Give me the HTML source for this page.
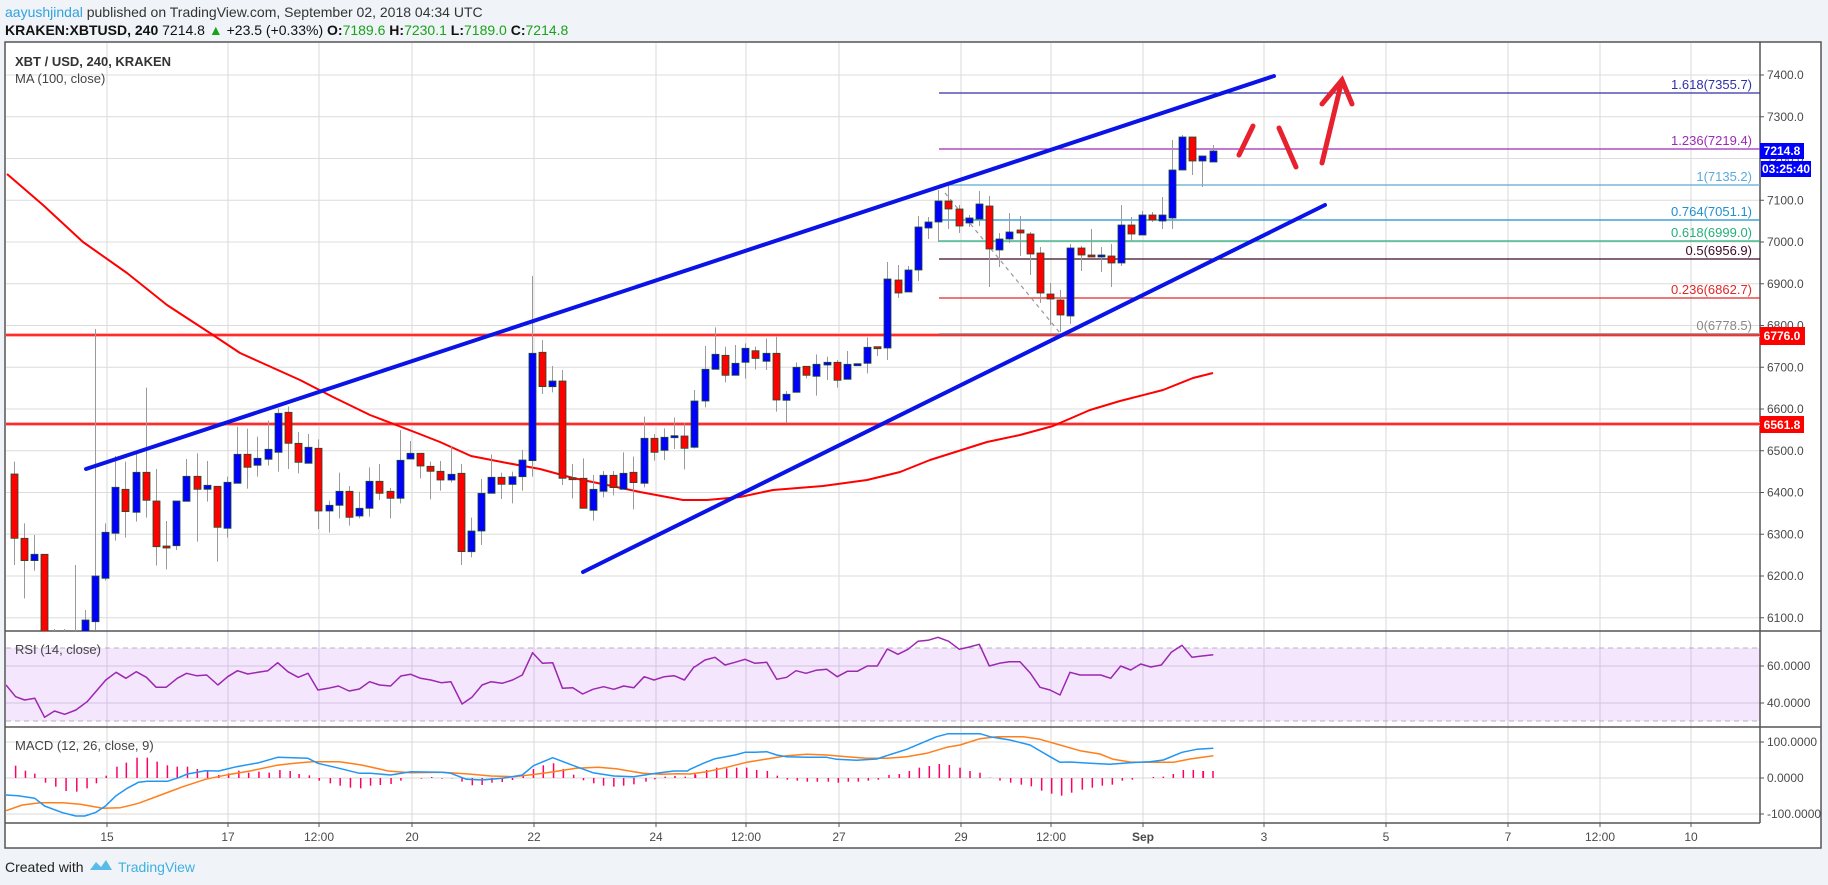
<!DOCTYPE html>
<html><head><meta charset="utf-8"><style>
html,body{margin:0;padding:0;width:1828px;height:885px;overflow:hidden;background:#f0f3f7;font-family:"Liberation Sans",sans-serif}
svg{position:absolute;left:0;top:0}
</style></head><body>
<svg id="s" width="1828" height="885" xmlns="http://www.w3.org/2000/svg" font-family="Liberation Sans, sans-serif">
<defs><clipPath id="mp"><rect x="6" y="43" width="1754" height="588"/></clipPath>
<clipPath id="rp"><rect x="6" y="632" width="1754" height="95"/></clipPath>
<clipPath id="mc"><rect x="6" y="728" width="1754" height="95"/></clipPath></defs>
<text x="5" y="17" font-size="14" fill="#2fa3dc">aayushjindal<tspan fill="#333"> published on TradingView.com, September 02, 2018 04:34 UTC</tspan></text>
<text x="5" y="35" font-size="14" fill="#111"><tspan font-weight="bold">KRAKEN:XBTUSD, 240</tspan> 7214.8 <tspan fill="#1aa31a">▲</tspan> +23.5 (+0.33%) <tspan font-weight="bold">O:</tspan><tspan fill="#1aa31a">7189.6</tspan> <tspan font-weight="bold">H:</tspan><tspan fill="#1aa31a">7230.1</tspan> <tspan font-weight="bold">L:</tspan><tspan fill="#1aa31a">7189.0</tspan> <tspan font-weight="bold">C:</tspan><tspan fill="#1aa31a">7214.8</tspan></text>
<rect x="5" y="42" width="1816" height="806" fill="#fff" stroke="#555" stroke-width="1.5"/>
<g id="g"></g>
<text x="5" y="872" font-size="14" fill="#222">Created with</text>
<path d="M90 870 l6 -8 l5 5 l5 -7 l6 10 z" fill="#5bbbe8"/>
<text x="118" y="872" font-size="14" fill="#3fb0e0">TradingView</text>
</svg>
<script>
var g=document.getElementById('g'),h='';
function Y(p){return 75+(7400-p)*0.4175;}
function L(x1,y1,x2,y2,c,w,extra){h+='<line x1="'+x1+'" y1="'+y1+'" x2="'+x2+'" y2="'+y2+'" stroke="'+c+'" stroke-width="'+w+'" '+(extra||'')+'/>';}
function T(x,y,t,s,c,a,extra){h+='<text x="'+x+'" y="'+y+'" font-size="'+s+'" fill="'+c+'" text-anchor="'+(a||'start')+'" '+(extra||'')+'>'+t+'</text>';}
function P(pts,c,w,clip){h+='<polyline points="'+pts.map(function(p){return p[0].toFixed(1)+','+p[1].toFixed(1)}).join(' ')+'" fill="none" stroke="'+c+'" stroke-width="'+w+'" stroke-linejoin="round" '+(clip?'clip-path="url(#'+clip+')"':'')+'/>';}
// grids
var vx=[107,228,319,412,534,656,746,839,961,1051,1143,1264,1386,1508,1600,1691];
vx.forEach(function(x){L(x,43,x,823,'#d8d8d8',1);});
for(var p=7400;p>=6100;p-=100){var y=Y(p);L(6,y,1760,y,'#dcdcdc',1);T(1767,y+4,p.toFixed(1),12,'#4a4a4a');L(1760,y,1764,y,'#555',1);}
// RSI pane
h+='<rect x="6" y="648" width="1754" height="73" fill="#f3e6fd"/>';
vx.forEach(function(x){L(x,631,x,727,'#d4c6e0',1);});
L(6,666,1760,666,'#d3c3e3',1);L(6,703,1760,703,'#d3c3e3',1);
L(6,648,1760,648,'#b8b0c0',1,'stroke-dasharray="5,4"');L(6,721,1760,721,'#b8b0c0',1,'stroke-dasharray="5,4"');
T(1767,670,'60.0000',12,'#4a4a4a');T(1767,707,'40.0000',12,'#4a4a4a');
L(1760,666,1764,666,'#555',1);L(1760,703,1764,703,'#555',1);
// MACD grids
[742,778,814].forEach(function(y){L(6,y,1760,y,'#d8d8d8',1);L(1760,y,1764,y,'#555',1);});
T(1767,746,'100.0000',12,'#4a4a4a');T(1767,782,'0.0000',12,'#4a4a4a');T(1767,818,'-100.0000',12,'#4a4a4a');
// pane borders
L(5,631,1821,631,'#555',1.5);L(5,727,1821,727,'#555',1.5);L(5,823,1760,823,'#555',1.5);L(1760,42,1760,823,'#555',1.5);
var tl=['15','17','12:00','20','22','24','12:00','27','29','12:00','Sep','3','5','7','12:00','10'];
vx.forEach(function(x,i){L(x,823,x,827,'#555',1);T(x,841,tl[i],12,'#4a4a4a','middle',i==10?'font-weight="bold"':'');});
// labels
T(15,66,'XBT / USD, 240, KRAKEN',13,'#333','start','font-weight="bold"');
T(15,83,'MA (100, close)',13,'#444');
T(15,654,'RSI (14, close)',13,'#444');
T(15,750,'MACD (12, 26, close, 9)',13,'#444');
// red horizontal
[335,424].forEach(function(y){L(6,y,1760,y,'#ffb0b0',4);L(6,y,1760,y,'#ff0000',1.6);});
// fib
var fib=[[93,'#3030a8','1.618(7355.7)'],[149,'#9c2ab8','1.236(7219.4)'],[185,'#5aaad8','1(7135.2)'],[220,'#1f8fcf','0.764(7051.1)'],[241,'#22b07a','0.618(6999.0)'],[259,'#3a0a24','0.5(6956.9)'],[298,'#e02828','0.236(6862.7)'],[334,'#8a8a8a','0(6778.5)']];
fib.forEach(function(f){L(939,f[0],1760,f[0],f[1],1.3);T(1752,f[0]-4,f[2],13,f[1],'end');});
L(945,193,1060,333,'#999',1.2,'stroke-dasharray="4,4"');
// MA
var ma=[[7,174],[43,205],[83,242],[127,273],[167,305],[213,335],[240,353],[300,380],[333,397],[370,415],[417,433],[440,442],[471,456],[507,463],[540,469],[573,478],[607,485],[640,492],[683,500],[707,500],[740,497],[773,490],[823,486],[867,480],[900,472],[930,460],[987,442],[1020,435],[1053,426],[1090,410],[1120,401],[1163,390],[1193,378],[1213,373]];
P(ma,'#ff0000',2,'mp');
// candles
var Z=[[14,972,1165,935,1245,'r'],[24,1165,1232,1120,1345,'r'],[34,1213,1232,1155,1262,'b'],[44,1213,1600,1213,1700,'r'],[54,1500,1600,1437,1700,'r'],[64,1500,1600,1437,1700,'b'],[75,1500,1600,1245,1700,'b'],[85,1410,1600,1380,1700,'b'],[95,1278,1415,537,1440,'b'],[105,1147,1285,1120,1292,'b'],
[115,1012,1150,918,1172,'b'],[125,1018,1085,935,1163,'r'],[136,967,1087,912,1115,'b'],[146,967,1051,713,1103,'r'],[156,1053,1190,957,1247,'r'],[166,1188,1193,1113,1258,'r'],[176,1053,1187,1053,1200,'b'],[186,979,1054,927,1054,'b'],[197,979,1018,910,1175,'r'],[207,1006,1018,933,1055,'b'],
[217,1009,1132,1009,1235,'r'],[227,997,1135,980,1163,'b'],[237,913,1000,830,1000,'b'],[247,913,952,836,1016,'r'],[257,925,946,860,980,'b'],[268,898,928,812,947,'b'],[278,790,907,775,965,'b'],[288,787,880,770,957,'r'],[298,880,937,846,970,'r'],[308,892,940,852,940,'b'],
[318,895,1083,868,1137,'r'],[329,1066,1083,1052,1148,'b'],[339,1024,1066,968,1105,'b'],[349,1024,1102,1008,1127,'r'],[359,1075,1098,1025,1105,'b'],[369,994,1075,952,1100,'b'],[379,994,1030,942,1050,'r'],[390,1024,1045,1014,1105,'r'],[400,931,1045,840,1060,'b'],[410,910,927,873,927,'b'],
[420,910,948,910,985,'r'],[430,949,964,935,1048,'r'],[440,964,990,933,1022,'r'],[451,973,990,890,997,'b'],[461,970,1205,942,1245,'r'],[471,1143,1205,1103,1222,'b'],[481,1030,1143,987,1185,'b'],[491,982,1030,913,1030,'b'],[501,982,1003,968,1047,'r'],[512,980,1003,965,1060,'b'],
[522,930,980,900,1022,'b'],[532,610,932,378,980,'b'],[542,607,710,570,732,'r'],[552,693,710,648,727,'b'],[562,693,985,660,1005,'r'],[572,983,987,942,1045,'r'],[583,985,1075,925,1075,'r'],[593,1018,1081,975,1112,'b'],[603,976,1024,963,1042,'b'],[613,976,1013,963,1036,'r'],
[623,970,1018,907,1018,'b'],[633,967,998,920,1078,'r'],[644,865,1000,800,1012,'b'],[654,865,907,852,932,'r'],[664,862,901,835,930,'b'],[674,857,862,803,897,'b'],[684,858,895,820,958,'r'],[694,753,892,720,895,'b'],[705,658,753,588,772,'b'],[715,613,658,532,658,'b'],
[725,616,676,590,697,'r'],[735,640,676,585,676,'b'],[745,595,637,580,686,'b'],[755,602,625,590,658,'r'],[766,610,634,565,660,'b'],[776,610,750,560,785,'r'],[786,733,751,723,820,'b'],[796,652,727,637,727,'b'],[806,649,676,649,685,'r'],[816,643,679,613,737,'b'],
[827,637,645,620,690,'b'],[837,637,691,630,713,'r'],[847,643,688,603,688,'b'],[857,641,645,641,645,'b'],[867,592,640,562,670,'b'],[877,590,595,590,618,'r']];
var C=Z.map(function(c){return [c[0],150+c[1]/3,150+c[2]/3,150+c[3]/3,150+c[4]/3,c[5]];});
C=C.concat([[887,279,348,262,360,'b'],[898,280,293,265,298,'r'],[908,270,292,266,292,'b'],[918,227,270,216,281,'b'],[928,222,228,217,239,'b'],[938,201,222,190,242,'b'],[948,201,209,185,229,'r'],[959,209,226,205,233,'r'],[969,218,223,215,227,'b'],[979,204,219,191,226,'b'],
[989,206,249,196,287,'r'],[999,239,250,233,267,'b'],[1009,232,239,213,243,'b'],[1020,230,233,216,256,'r'],[1030,234,254,232,275,'r'],[1040,253,293,247,303,'r'],[1050,294,299,283,325,'r'],[1060,300,315,290,332,'r'],[1070,248,316,244,324,'b'],[1081,248,255,246,271,'r'],
[1091,255,257,229,257,'r'],[1101,255,257,247,272,'b'],[1111,256,263,244,287,'r'],[1121,225,263,205,266,'b'],[1131,225,234,217,241,'r'],[1142,215,235,211,235,'b'],[1152,215,220,212,222,'r'],[1162,215,221,197,229,'b'],[1172,170,218,140,229,'b'],[1182,137,170,135,170,'b'],
[1192,137,161,137,175,'r'],[1202,156,161,156,187,'b'],[1213,151,162,145,162,'b']]);
h+='<g clip-path="url(#mp)">';
C.forEach(function(c){L(c[0]+0.5,c[3],c[0]+0.5,c[4],'#9a9a9a',1);var t=Math.min(c[1],c[2]),b=Math.max(c[1],c[2]);if(b-t<2)b=t+2;
h+='<rect x="'+(c[0]-3)+'" y="'+t.toFixed(1)+'" width="7" height="'+(b-t).toFixed(1)+'" fill="'+(c[5]=='r'?'#ff0000':'#0000ff')+'" stroke="#1e4d2b" stroke-width="0.8"/>';});
h+='</g>';
// trend lines
L(86,469,1274,76,'#0a14e6',4,'stroke-linecap="round"');L(583,572,1325,205,'#0a14e6',4,'stroke-linecap="round"');
// hand drawn arrows
h+='<g stroke="#e8212e" stroke-width="5" stroke-linecap="round" fill="none"><path d="M1239 155 L1253 126"/><path d="M1279 128 L1296 167"/><path d="M1322 163 L1342 80 M1322 104 L1342 80 L1352 104"/></g>';
// price tags
h+='<rect x="1760" y="143" width="44" height="16" fill="#0000ff"/>';T(1782,155,'7214.8',12,'#fff','middle','font-weight="bold"');
h+='<rect x="1761" y="161" width="50" height="16" fill="#0000ff"/>';T(1786,173,'03:25:40',12,'#fff','middle','font-weight="bold"');
h+='<rect x="1760" y="327" width="45" height="18" fill="#ff0000"/>';T(1782,340,'6776.0',12,'#fff','middle','font-weight="bold"');
h+='<rect x="1760" y="416" width="44" height="17" fill="#ff0000"/>';T(1782,429,'6561.8',12,'#fff','middle','font-weight="bold"');
// RSI
var r3=[[15,195],[35,230],[55,240],[78,235],[100,292],[122,273],[145,283],[170,270],[195,245],[237,180],[260,157],[282,175],[305,155],[328,172],[350,202],[372,202],[397,175],[418,160],[440,167],[463,165],[488,195],[510,170],[532,152],[555,162],[578,157],[600,152],[622,128],[645,155],[668,172],[690,160],[712,210],[735,205],[758,198],[782,213],[805,207],[828,185],[850,195],[875,198],[898,168],[920,163],[942,175],[965,180],[988,188],[1010,185],[1035,252],[1057,232],[1080,195],[1100,185],[1125,190],[1148,180],[1170,165],[1193,98],[1215,130],[1238,128],[1260,205],[1283,203],[1305,222],[1328,208],[1352,200],[1375,208],[1397,198],[1420,203],[1443,170],[1465,180],[1488,170],[1510,167],[1533,180],[1555,140]];
var r7=[[15,110],[45,90],[75,82],[105,105],[135,97],[165,88],[195,100],[230,97],[260,148],[290,142],[318,122],[348,130],[378,121],[410,118],[442,140],[472,124],[502,124],[532,108],[562,108],[592,57],[624,73],[654,58],[684,34],[714,31],[744,22],[776,34],[808,58],[838,51],[868,43],[898,108],[928,100],[958,95],[990,95],[1020,128],[1050,172],[1080,180],[1110,195],[1140,127],[1170,135],[1200,135],[1232,135],[1262,145],[1292,108],[1322,120],[1352,102],[1382,111],[1414,105],[1444,67],[1476,46],[1506,82],[1536,78],[1570,74]];
var rs=r3.map(function(p){return [p[0]/2.24,620+p[1]/3];}).concat(r7.map(function(p){return [690+p[0]/3,630+p[1]/3];}));
rs[0][0]=6;
P(rs,'#9c27b0',1.5,'rp');
// MACD
var b3=[[15,525],[40,527],[78,535],[100,558],[140,578],[170,588],[190,588],[215,577],[237,557],[260,527],[285,505],[310,487],[330,484],[375,484],[400,473],[420,462],[460,452],[490,453],[530,440],[580,428],[622,412],[690,415],[712,430],[760,445],[805,460],[830,460],[875,465],[920,455],[990,457],[1010,460],[1045,478],[1080,480],[1125,475],[1170,465],[1195,437],[1238,413],[1285,437],[1328,458],[1375,468],[1420,470],[1470,460],[1510,453],[1540,453]];
var b7=[[0,418],[40,400],[75,386],[135,375],[165,367],[195,367],[230,365],[260,375],[290,380],[350,382],[410,382],[440,388],[500,391],[560,387],[590,377],[650,358],[700,337],[740,320],[775,311],[870,311],[900,320],[960,330],[1020,345],[1080,380],[1110,397],[1140,396],[1200,400],[1260,403],[1320,398],[1380,395],[1420,390],[1476,367],[1520,358],[1570,355]];
var o3=[[15,572],[50,555],[90,548],[140,548],[180,553],[230,565],[270,563],[310,550],[360,525],[410,500],[460,478],[510,464],[560,453],[620,436],[660,430],[700,425],[760,425],[810,435],[870,453],[920,458],[990,457],[1050,462],[1100,468],[1150,470],[1200,463],[1240,455],[1290,445],[1340,442],[1380,446],[1440,460],[1480,463],[1520,461]];
var o7=[[0,432],[50,425],[110,412],[170,397],[230,387],[290,377],[350,373],[410,375],[470,380],[530,385],[590,385],[650,380],[710,370],[770,352],[810,345],[870,326],[920,320],[1000,320],[1050,328],[1110,345],[1170,362],[1230,372],[1270,388],[1320,396],[1380,397],[1450,397],[1500,387],[1570,377]];
function cv(a,b){var r=a.map(function(p){return [p[0]/2.24,620+p[1]/3];}).concat(b.map(function(p){return [690+p[0]/3,630+p[1]/3];}));r[0][0]=6;return r;}
var h3=[[35,437],[57,452],[78,461],[102,488],[125,500],[148,513],[172,515],[195,505],[216,490],[238,467],[262,440],[283,428],[307,413],[330,413],[352,425],[375,436],[397,440],[420,440],[442,447],[465,452],[490,465],[512,460],[535,452],[557,458],[580,455],[603,458],[627,450],[650,453],[670,462],[693,466],[715,482],[740,490],[762,497],[785,503],[808,505],[830,497],[852,495],[876,492],[898,482],[922,474],[944,476],[967,471],[990,476],[1013,475],[1035,485],[1058,496],[1080,495],[1102,488],[1125,486],[1148,480],[1172,465],[1195,447],[1217,436],[1240,430],[1262,447],[1285,464],[1307,481],[1330,490],[1352,497],[1375,500],[1397,497],[1420,493],[1447,485],[1467,478],[1490,470],[1512,468],[1535,470],[1558,465]];
var h7=[[15,430],[50,420],[80,413],[110,415],[140,413],[170,413],[200,420],[232,423],[262,437],[292,449],[322,452],[352,455],[382,455],[415,455],[445,458],[475,455],[505,455],[535,452],[565,449],[597,435],[628,432],[658,423],[688,413],[718,408],[748,402],[778,405],[810,413],[840,423],[870,428],[900,443],[930,452],[962,458],[994,464],[1024,469],[1055,482],[1085,491],[1115,497],[1145,488],[1177,479],[1207,473],[1237,467],[1267,464],[1297,452],[1327,449],[1360,444],[1390,441],[1420,440],[1450,432],[1480,420],[1510,420],[1540,423]];
h3.forEach(function(b){var x=b[0]/2.24,y=620+b[1]/3;L(x,778,x,y,'#ff0066',1.5);});
h7.forEach(function(b){var x=690+b[0]/3,y=630+b[1]/3;L(x,778,x,y,'#ff0066',1.5);});
L(1203,778,1203,771,'#ff0066',1.5);L(1213,778,1213,771,'#ff0066',1.5);
P(cv(o3,o7),'#ff7f1a',1.5,'mc');
P(cv(b3,b7),'#2196f3',1.5,'mc');
g.innerHTML=h;
</script>
</body></html>
